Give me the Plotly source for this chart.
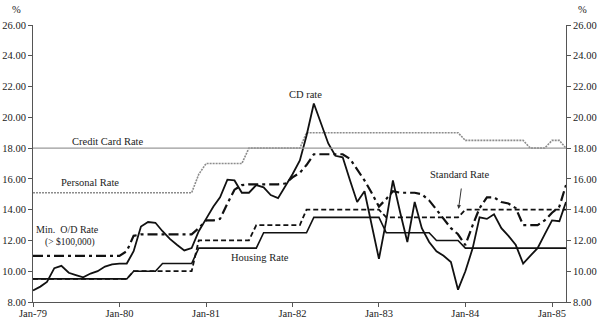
import plotly.graph_objects as go
import pandas as pd

# Monthly observations, Jan-79 .. Mar-85
months = [d.strftime("%Y-%m-%d") for d in pd.date_range("1979-01-01", "1985-03-01", freq="MS")]

cd_rate = [8.75, 9.0, 9.3, 10.2, 10.35, 9.9, 9.75, 9.6, 9.85, 10.0, 10.3, 10.45,
           10.5, 10.5, 11.3, 12.9, 13.2, 13.15, 12.6, 12.1, 11.7, 11.35, 11.5, 12.6,
           13.4, 14.2, 14.8, 15.95, 15.9, 15.1, 15.1, 15.6, 15.45, 14.95, 14.75, 15.5,
           16.3, 17.2, 18.8, 20.9, 19.6, 18.3, 17.5, 17.4, 15.9, 14.5, 15.2, 13.0,
           10.8, 13.3, 15.9, 13.8, 11.9, 14.5, 12.8, 11.9, 11.3, 11.0, 10.6, 8.8,
           10.0, 11.5, 13.5, 13.4, 13.7, 12.8, 12.3, 11.7, 10.5, 11.0, 11.5, 12.4,
           13.3, 13.25, 14.5]

housing_rate = [9.5] * 14 + [10.0] * 4 + [10.5] * 5 + [11.5] * 9 + [12.5] * 7 + \
               [13.5] * 10 + [12.5] * 7 + [12.0] * 4 + [11.5] * 15

standard_rate = [9.5] * 14 + [10.0] * 9 + [12.0] * 8 + [13.0] * 7 + [14.0] * 11 + \
                [13.5] * 11 + [14.0] * 15

min_od_rate = [11.0] * 13 + [11.3, 12.3, 12.4, 12.4, 12.4, 12.4, 12.4, 12.4, 12.4, 12.4, 12.8,
               13.3, 13.3, 13.4, 14.4, 15.3, 15.6, 15.65, 15.65, 15.65, 15.65, 15.65, 15.7,
               16.1, 16.4, 16.9, 17.6, 17.6, 17.6, 17.6, 17.6, 17.3, 16.6, 15.9, 15.1,
               14.2, 14.7, 15.2, 15.1, 15.1, 15.1, 15.0, 14.6, 14.0, 13.4, 12.8, 12.4,
               11.7, 13.0, 14.1, 14.8, 14.8, 14.5, 14.4, 14.1, 13.0, 13.0, 13.0, 13.3,
               13.8, 14.2, 15.6]

personal_rate = [15.1] * 23 + [16.3] + [17.0] * 6 + [18.0] * 8 + [19.0] * 22 + \
                [18.5] * 9 + [18.0] * 3 + [18.5] * 2 + [18.0]

credit_card_rate = [18.0] * 75

y_ticks = [8, 10, 12, 14, 16, 18, 20, 22, 24, 26]
x_tick_dates = ["1979-01-01", "1980-01-01", "1981-01-01", "1982-01-01",
                "1983-01-01", "1984-01-01", "1985-01-01"]
x_tick_text = ["Jan-79", "Jan-80", "Jan-81", "Jan-82", "Jan-83", "Jan-84", "Jan-85"]

FONT = "Liberation Serif"
TXT = "#222222"

fig = go.Figure()
fig.add_trace(go.Scatter(x=months, y=credit_card_rate, mode="lines",
                         line=dict(color="#9a9a9a", width=1.2), yaxis="y2",
                         name="Credit Card Rate"))
fig.add_trace(go.Scatter(x=months, y=personal_rate, mode="lines",
                         line=dict(color="#8c8c8c", width=1.6, dash="2px,1px"),
                         name="Personal Rate"))
fig.add_trace(go.Scatter(x=months, y=housing_rate, mode="lines",
                         line=dict(color="#111111", width=1.6), name="Housing Rate"))
fig.add_trace(go.Scatter(x=months, y=standard_rate, mode="lines",
                         line=dict(color="#111111", width=1.8, dash="5px,3px"),
                         name="Standard Rate"))
fig.add_trace(go.Scatter(x=months, y=min_od_rate, mode="lines",
                         line=dict(color="#111111", width=2.2, dash="10px,4px,3px,4px"),
                         name="Min. O/D Rate"))
fig.add_trace(go.Scatter(x=months, y=cd_rate, mode="lines",
                         line=dict(color="#111111", width=1.8), name="CD rate"))

axis_common = dict(range=[8, 26], tickvals=y_ticks,
                   ticktext=[f"{v:.2f}" for v in y_ticks],
                   showgrid=False, zeroline=False, showline=True,
                   linecolor="#555555", linewidth=1, ticks="outside", ticklen=4,
                   tickcolor="#555555", automargin=False,
                   tickfont=dict(family=FONT, size=10.5, color=TXT))

fig.update_layout(
    width=600, height=325,
    margin=dict(l=33, r=34, t=25, b=23),
    paper_bgcolor="white", plot_bgcolor="white",
    showlegend=False,
    xaxis=dict(range=["1979-01-01", "1985-03-01"], tickvals=x_tick_dates,
               ticktext=x_tick_text, showgrid=False, zeroline=False,
               showline=True, linecolor="#555555", linewidth=1,
               ticks="outside", ticklen=4, tickcolor="#555555",
               ticklabelstandoff=-3, automargin=False,
               tickfont=dict(family=FONT, size=10.5, color=TXT)),
    yaxis=dict(side="left", **axis_common),
    yaxis2=dict(side="right", overlaying="y", **axis_common),
)

def px_to_paper(px, py):
    return (px - 33) / 533.0, (302 - py) / 277.0

def label(text, px, py, size=10.5):
    x, y = px_to_paper(px, py)
    fig.add_annotation(x=x, y=y, xref="paper", yref="paper", text=text,
                       showarrow=False, xanchor="center", yanchor="middle",
                       font=dict(family=FONT, size=size, color=TXT))

label("%", 16, 9)
label("%", 582, 9)
label("Credit Card Rate", 107, 141)
label("Personal Rate", 90, 182)
label("Min.  O/D Rate", 67, 229, 10)
label("(&gt; $100,000)", 70, 242, 9.5)
label("Housing Rate", 260, 257)
label("CD rate", 305, 94)
label("Standard Rate", 460, 174)

tx, ty = px_to_paper(458.5, 209)
fig.add_annotation(x=tx, y=ty, xref="paper", yref="paper", text="",
                   showarrow=True, arrowhead=2, arrowsize=0.8, arrowwidth=1,
                   arrowcolor="#333333", ax=3, ay=-22)

fig.write_html("out.html")
